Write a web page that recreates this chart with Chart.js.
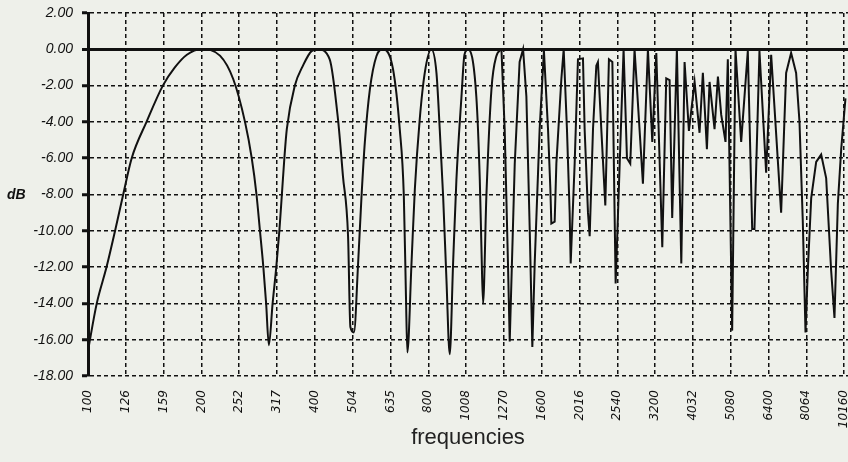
<!DOCTYPE html>
<html>
<head>
<meta charset="utf-8">
<script src="https://cdn.jsdelivr.net/npm/chart.js@4/dist/chart.umd.min.js"></script>
<style>
  html, body { margin: 0; padding: 0; background: #eef0ea; }
</style>
</head>
<body>
<canvas id="myChart" width="848" height="462"></canvas>
<script>
// third-octave tick positions on the frequency axis
const tickFreqs = [100, 126, 159, 200, 252, 317, 400, 504, 635, 800, 1008, 1270, 1600, 2016, 2540, 3200, 4032, 5080, 6400, 8064, 10160];
const dbTicks = [2, 0, -2, -4, -6, -8, -10, -12, -14, -16, -18];

// response (Hz / dB)
const freqHz = [
  100, 105.5, 112, 118, 124, 130.6, 143, 158, 170, 183, 200, 224, 243, 261, 272, 280, 286, 292, 297, 302,
  309, 316, 322, 327, 332, 337, 354, 372, 392, 408, 438, 461, 475, 490, 497, 508, 521, 532, 543, 560,
  583, 608, 645, 672, 689, 698, 704, 722, 737, 759, 783, 815, 841, 858, 876, 894, 912, 931, 950, 980,
  998, 1020, 1073, 1096, 1107, 1118, 1141, 1177, 1213, 1251, 1276, 1302, 1316, 1357, 1398, 1428, 1457, 1487, 1511, 1533,
  1580, 1622, 1663, 1687, 1697, 1732, 1750, 1804, 1830, 1867, 1898, 1910, 1957, 1997, 2059, 2080, 2123, 2145, 2189, 2234,
  2256, 2303, 2360, 2413, 2464, 2514, 2639, 2694, 2749, 2822, 2970, 3062, 3145, 3223, 3343, 3425, 3496, 3552, 3655, 3755,
  3831, 3934, 4073, 4198, 4284, 4391, 4463, 4601, 4697, 4792, 4920, 4990, 5124, 5229, 5414, 5638, 5791, 5872, 6054, 6307,
  6503, 6911, 7126, 7346, 7574, 7732, 7890, 8022, 8135, 8305, 8562, 8827, 9101, 9383, 9575, 9775, 9977, 10240
];
const levelDb = [
  -16.6, -14, -12, -10, -8, -6, -4, -2, -1, -0.3, 0, -0.35, -1.65, -4, -6, -8, -10, -12, -14, -16.3,
  -14, -12, -10, -8, -6, -4.4, -2, -0.9, -0.1, 0, -0.55, -3.9, -7, -10.3, -15.3, -15.6, -11.8, -8.1, -5.1, -2.2,
  -0.37, 0, -1.1, -4.4, -8.1, -13.6, -16.7, -11.8, -7.7, -3.9, -1.3, 0, -1.3, -4.4, -8.1, -12.7, -16.8, -11.8, -7.2, -2.6,
  -0.3, 0, -2.6, -7.2, -10.9, -14, -8.1, -2.2, -0.37, 0, -4.4, -11.8, -16.1, -6.3, -0.7, 0, -2.6, -9.9, -16.4, -11.8,
  -4.4, -0.1, -4.4, -7.7, -9.6, -9.5, -6.3, -1.65, 0, -4.4, -9.0, -11.8, -6.3, -0.55, -0.5, -4.4, -9.0, -10.3, -4.4, -0.9,
  -0.7, -4.4, -8.6, -0.55, -0.7, -12.9, 0, -6, -6.3, 0, -7.4, 0, -5.1, -0.2, -10.9, -1.6, -1.7, -9.3, 0, -11.8,
  -0.7, -4.5, -1.8, -4.6, -1.3, -5.5, -1.8, -4.4, -1.5, -3.6, -5.1, -0.55, -15.5, 0, -5.1, -0.1, -9.9, -9.9, -0.1, -6.8,
  -0.3, -9.0, -1.3, -0.2, -1.3, -4.0, -9.5, -15.6, -12.2, -8.2, -6.2, -5.8, -7.1, -12.2, -14.8, -8.5, -5.5, -2.7
];

const ink = '#111';
const points = freqHz.map((f, i) => ({ x: f, y: levelDb[i] }));
// low end has smooth lobes, the top end is jagged
const split = freqHz.indexOf(1251);

const paperBg = {
  id: 'paperBg',
  beforeDraw(chart) {
    const c = chart.ctx;
    c.save();
    c.fillStyle = '#eef0ea';
    c.fillRect(0, 0, chart.width, chart.height);
    c.restore();
  }
};

// horizontal "dB" label left of the axis
const dbLabel = {
  id: 'dbLabel',
  afterDraw(chart) {
    const c = chart.ctx;
    c.save();
    c.fillStyle = ink;
    c.font = 'italic bold 14px "Liberation Sans"';
    c.fillText('dB', 7, 199);
    c.restore();
  }
};

const lineStyle = { borderColor: ink, borderWidth: 2, pointRadius: 0, fill: false };

new Chart(document.getElementById('myChart'), {
  type: 'line',
  data: {
    datasets: [
      { ...lineStyle, data: points.slice(0, split + 1), cubicInterpolationMode: 'monotone' },
      { ...lineStyle, data: points.slice(split), tension: 0 }
    ]
  },
  options: {
    responsive: false,
    animation: false,
    devicePixelRatio: 1,
    layout: { padding: { top: 13, right: 0, left: 0, bottom: 0 } },
    plugins: { legend: { display: false }, tooltip: { enabled: false } },
    scales: {
      x: {
        type: 'logarithmic',
        min: 100,
        max: 10400,
        afterBuildTicks: s => { s.ticks = tickFreqs.map(v => ({ value: v })); },
        afterFit: s => { s.height = 86; s.paddingLeft = 0; s.paddingRight = 0; },
        ticks: {
          autoSkip: false,
          minRotation: 90,
          maxRotation: 90,
          padding: 14,
          color: ink,
          font: { family: 'DejaVu Sans', size: 12, style: 'italic' },
          callback: v => String(v)
        },
        grid: { color: ink, lineWidth: 1.5, drawTicks: false },
        border: { display: false, dash: [4, 3] },
        title: {
          display: true,
          text: 'frequencies',
          color: '#222',
          font: { family: 'Liberation Sans', size: 22 },
          padding: { top: 0, bottom: 11 }
        }
      },
      y: {
        min: -18,
        max: 2,
        afterBuildTicks: s => { s.ticks = dbTicks.map(v => ({ value: v })); },
        afterFit: s => { s.width = 88; s.paddingTop = 0; s.paddingBottom = 0; },
        ticks: {
          padding: 9,
          color: ink,
          font: { family: 'Liberation Sans', size: 14, style: 'italic' },
          callback: v => v.toFixed(2)
        },
        grid: {
          color: ink,
          lineWidth: c => (c.tick && c.tick.value === 0 ? 3 : 1.5),
          tickLength: 6,
          tickWidth: 3,
          tickColor: ink,
          tickBorderDash: []
        },
        border: {
          display: true,
          color: ink,
          width: 3,
          dash: c => (c.tick && c.tick.value === 0 ? [] : [4, 3])
        }
      }
    }
  },
  plugins: [paperBg, dbLabel]
});
</script>
</body>
</html>
